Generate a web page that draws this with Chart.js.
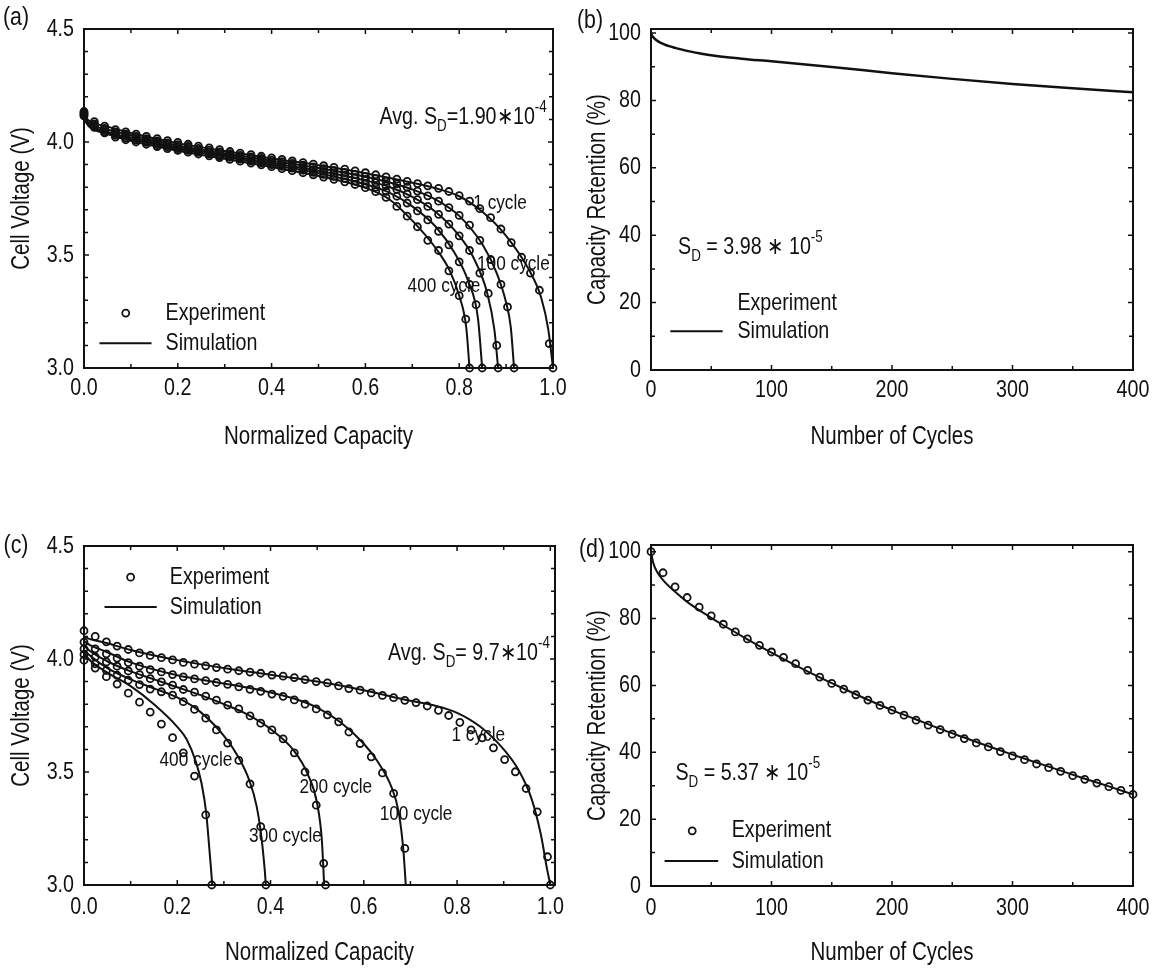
<!DOCTYPE html>
<html>
<head>
<meta charset="utf-8">
<script src="https://cdn.jsdelivr.net/npm/chart.js@4.4.0/dist/chart.umd.min.js"></script>
<style>
  body { margin: 0; background: #fff; width: 1153px; height: 970px; position: relative; overflow: hidden; }
  canvas { position: absolute; }
</style>
</head>
<body>
<canvas id="panelA" width="575" height="470" style="left:0;top:0"></canvas>
<canvas id="panelB" width="578" height="470" style="left:575px;top:0"></canvas>
<canvas id="panelC" width="575" height="490" style="left:0;top:480px"></canvas>
<canvas id="panelD" width="578" height="490" style="left:575px;top:480px"></canvas>
<script>
// ---- (a) discharge curves, low fade cell: experiment ----
const capA1    = [0,0.022,0.044,0.067,0.089,0.111,0.133,0.156,0.178,0.2,0.222,0.244,0.267,0.289,0.311,0.333,0.356,0.378,0.4,0.422,0.444,0.467,0.489,0.511,0.533,0.556,0.578,0.6,0.622,0.644,0.667,0.689,0.711,0.733,0.756,0.778,0.8,0.822,0.844,0.867,0.889,0.911,0.933,0.952,0.971,0.992,1.0];
const voltA1   = [4.135,4.09,4.07,4.055,4.045,4.035,4.025,4.015,4.006,3.998,3.99,3.982,3.974,3.966,3.958,3.951,3.944,3.937,3.93,3.923,3.916,3.909,3.902,3.895,3.888,3.88,3.872,3.864,3.855,3.846,3.836,3.826,3.816,3.806,3.795,3.781,3.763,3.738,3.705,3.665,3.615,3.555,3.49,3.42,3.344,3.108,3.0];
const capA100  = [0,0.022,0.044,0.067,0.089,0.111,0.133,0.156,0.178,0.2,0.222,0.244,0.267,0.289,0.311,0.333,0.356,0.378,0.4,0.422,0.444,0.467,0.489,0.511,0.533,0.556,0.578,0.6,0.622,0.644,0.667,0.689,0.711,0.733,0.756,0.778,0.8,0.822,0.844,0.867,0.889,0.903,0.917];
const voltA100 = [4.13,4.08,4.06,4.045,4.035,4.025,4.015,4.005,3.996,3.988,3.98,3.972,3.964,3.956,3.948,3.941,3.934,3.927,3.92,3.913,3.905,3.898,3.89,3.882,3.874,3.866,3.857,3.848,3.838,3.827,3.815,3.8,3.783,3.762,3.738,3.71,3.675,3.632,3.565,3.48,3.37,3.27,3.0];
const capA200  = [0,0.022,0.044,0.067,0.089,0.111,0.133,0.156,0.178,0.2,0.222,0.244,0.267,0.289,0.311,0.333,0.356,0.378,0.4,0.422,0.444,0.467,0.489,0.511,0.533,0.556,0.578,0.6,0.622,0.644,0.667,0.689,0.711,0.733,0.756,0.778,0.8,0.822,0.844,0.862,0.88,0.883];
const voltA200 = [4.125,4.075,4.052,4.037,4.026,4.016,4.006,3.996,3.987,3.979,3.971,3.963,3.955,3.947,3.94,3.932,3.925,3.917,3.91,3.902,3.894,3.886,3.878,3.87,3.861,3.852,3.842,3.832,3.82,3.806,3.79,3.77,3.745,3.715,3.68,3.637,3.585,3.52,3.42,3.33,3.1,3.0];
const capA300  = [0,0.022,0.044,0.067,0.089,0.111,0.133,0.156,0.178,0.2,0.222,0.244,0.267,0.289,0.311,0.333,0.356,0.378,0.4,0.422,0.444,0.467,0.489,0.511,0.533,0.556,0.578,0.6,0.622,0.644,0.667,0.689,0.711,0.733,0.756,0.778,0.8,0.822,0.836,0.849];
const voltA300 = [4.12,4.07,4.045,4.03,4.018,4.008,3.998,3.988,3.979,3.971,3.963,3.955,3.947,3.939,3.932,3.924,3.916,3.908,3.9,3.892,3.884,3.875,3.866,3.857,3.848,3.838,3.827,3.815,3.8,3.782,3.76,3.73,3.695,3.655,3.605,3.545,3.47,3.37,3.28,3.0];
const capA400  = [0,0.022,0.044,0.067,0.089,0.111,0.133,0.156,0.178,0.2,0.222,0.244,0.267,0.289,0.311,0.333,0.356,0.378,0.4,0.422,0.444,0.467,0.489,0.511,0.533,0.556,0.578,0.6,0.622,0.644,0.667,0.689,0.711,0.733,0.756,0.778,0.8,0.814,0.822];
const voltA400 = [4.115,4.065,4.04,4.022,4.01,4.0,3.99,3.98,3.971,3.963,3.955,3.947,3.939,3.931,3.923,3.915,3.907,3.899,3.891,3.882,3.873,3.864,3.855,3.845,3.835,3.824,3.812,3.798,3.78,3.755,3.715,3.672,3.625,3.565,3.52,3.43,3.32,3.216,3.0];

// ---- (a) simulation ----
const simCapA1    = [0,0.01,0.05,0.1,0.2,0.3,0.4,0.5,0.6,0.7,0.75,0.8,0.85,0.9,0.95,0.975,0.99,1.0];
const simVoltA1   = [4.12,4.095,4.068,4.04,3.995,3.96,3.927,3.897,3.862,3.82,3.795,3.76,3.69,3.585,3.43,3.31,3.17,3.0];
const simCapA100  = [0,0.01,0.05,0.1,0.2,0.3,0.4,0.5,0.6,0.65,0.7,0.75,0.8,0.85,0.88,0.9,0.91,0.917];
const simVoltA100 = [4.115,4.085,4.055,4.03,3.985,3.95,3.917,3.885,3.846,3.822,3.79,3.745,3.673,3.545,3.42,3.29,3.18,3.0];
const simCapA200  = [0,0.01,0.05,0.1,0.2,0.3,0.4,0.5,0.6,0.65,0.7,0.75,0.8,0.83,0.86,0.875,0.883];
const simVoltA200 = [4.11,4.08,4.045,4.02,3.977,3.942,3.907,3.873,3.83,3.802,3.757,3.69,3.585,3.49,3.33,3.17,3.0];
const simCapA300  = [0,0.01,0.05,0.1,0.2,0.3,0.4,0.5,0.6,0.65,0.7,0.75,0.79,0.82,0.84,0.849];
const simVoltA300 = [4.105,4.075,4.04,4.012,3.969,3.935,3.898,3.862,3.813,3.777,3.715,3.625,3.51,3.38,3.22,3.0];
const simCapA400  = [0,0.01,0.05,0.1,0.2,0.3,0.4,0.5,0.6,0.65,0.7,0.75,0.78,0.8,0.815,0.822];
const simVoltA400 = [4.1,4.07,4.035,4.005,3.961,3.926,3.889,3.85,3.797,3.748,3.652,3.53,3.43,3.32,3.18,3.0];

// ---- (b) capacity retention, low fade cell ----
const cyclesB    = [0,1,2,4,7,10,15,20,30,40,50,75,100,150,200,250,300,350,400];
const retentionB = [100,99.2,98.7,98.0,97.3,96.8,96.1,95.6,94.7,94.0,93.4,92.4,91.6,89.9,88.1,86.4,84.9,83.6,82.4];

// ---- (c) discharge curves, high fade cell: experiment ----
const capC1     = [0,0.024,0.048,0.071,0.095,0.119,0.142,0.166,0.19,0.213,0.237,0.261,0.284,0.308,0.332,0.356,0.379,0.403,0.427,0.451,0.474,0.498,0.522,0.546,0.568,0.592,0.616,0.64,0.664,0.688,0.712,0.736,0.76,0.782,0.806,0.83,0.854,0.878,0.902,0.925,0.948,0.972,0.994,1.0];
const voltC1    = [4.125,4.1,4.076,4.057,4.042,4.027,4.016,4.006,3.996,3.985,3.977,3.97,3.962,3.955,3.948,3.942,3.937,3.929,3.924,3.918,3.909,3.9,3.894,3.881,3.869,3.862,3.85,3.839,3.829,3.817,3.807,3.792,3.773,3.75,3.72,3.686,3.651,3.607,3.555,3.501,3.427,3.324,3.125,3.0];
const capC100   = [0,0.024,0.048,0.071,0.095,0.119,0.142,0.166,0.19,0.213,0.237,0.261,0.284,0.308,0.332,0.356,0.379,0.403,0.427,0.451,0.474,0.498,0.522,0.546,0.568,0.592,0.616,0.64,0.664,0.688];
const voltC100  = [4.075,4.045,4.023,4.004,3.984,3.968,3.953,3.943,3.931,3.921,3.912,3.904,3.896,3.888,3.877,3.866,3.857,3.845,3.835,3.819,3.8,3.779,3.753,3.722,3.677,3.626,3.567,3.496,3.405,3.162];
const capC200   = [0,0.024,0.048,0.071,0.095,0.119,0.142,0.166,0.19,0.213,0.237,0.261,0.284,0.308,0.332,0.356,0.379,0.403,0.427,0.451,0.474,0.498,0.514,0.518];
const voltC200  = [4.045,4.009,3.987,3.968,3.947,3.931,3.913,3.899,3.884,3.865,3.853,3.836,3.818,3.796,3.779,3.748,3.716,3.686,3.647,3.585,3.5,3.353,3.096,3.0];
const capC300   = [0,0.024,0.048,0.071,0.095,0.119,0.142,0.166,0.19,0.213,0.237,0.261,0.284,0.308,0.332,0.356,0.379,0.39];
const voltC300  = [4.02,3.979,3.95,3.928,3.906,3.887,3.867,3.855,3.84,3.811,3.777,3.738,3.686,3.628,3.551,3.447,3.258,3.0];
const capC400   = [0,0.024,0.048,0.071,0.095,0.119,0.142,0.166,0.19,0.213,0.237,0.261,0.274];
const voltC400  = [3.995,3.96,3.922,3.889,3.849,3.809,3.765,3.712,3.652,3.585,3.482,3.31,3.0];

// ---- (c) simulation ----
const simCapC1    = [0,0.01,0.05,0.1,0.2,0.3,0.4,0.5,0.6,0.7,0.75,0.8,0.85,0.9,0.93,0.96,0.98,0.993,1.0];
const simVoltC1   = [4.1,4.09,4.07,4.04,3.995,3.96,3.93,3.9,3.862,3.815,3.795,3.762,3.7,3.6,3.515,3.38,3.22,3.07,3.0];
const simCapC100  = [0,0.01,0.05,0.1,0.2,0.3,0.4,0.45,0.5,0.55,0.6,0.63,0.66,0.675,0.685,0.69];
const simVoltC100 = [4.08,4.065,4.03,3.985,3.928,3.892,3.852,3.825,3.785,3.72,3.625,3.545,3.43,3.32,3.15,3.0];
const simCapC200  = [0,0.01,0.05,0.1,0.15,0.2,0.25,0.3,0.35,0.4,0.45,0.48,0.5,0.51,0.515];
const simVoltC200 = [4.06,4.04,3.99,3.945,3.91,3.875,3.84,3.8,3.755,3.69,3.595,3.49,3.36,3.2,3.0];
const simCapC300  = [0,0.01,0.05,0.1,0.15,0.2,0.25,0.3,0.33,0.355,0.37,0.38,0.387,0.39];
const simVoltC300 = [4.04,4.02,3.96,3.91,3.87,3.83,3.765,3.66,3.57,3.46,3.35,3.22,3.08,3.0];
const simCapC400  = [0,0.01,0.05,0.1,0.15,0.2,0.22,0.24,0.252,0.262,0.268,0.272,0.275];
const simVoltC400 = [4.03,4.0,3.94,3.88,3.8,3.7,3.645,3.545,3.45,3.32,3.18,3.08,3.0];

// ---- (d) capacity retention, high fade cell ----
const cyclesD       = [0,10,20,30,40,50,60,70,80,90,100,110,120,130,140,150,160,170,180,190,200,210,220,230,240,250,260,270,280,290,300,310,320,330,340,350,360,370,380,390,400];
const retentionD    = [100,93.7,89.5,86.3,83.4,80.8,78.3,76.0,73.9,72.0,70.0,68.4,66.5,64.5,62.5,60.6,58.9,57.2,55.6,54.0,52.6,51.1,49.6,48.1,46.8,45.4,44.1,42.8,41.6,40.2,38.9,37.8,36.5,35.4,34.3,33.0,31.9,30.8,29.7,28.6,27.4];
const simCyclesD    = [0,2,5,10,20,30,40,50,60,80,100,120,140,160,180,200,220,240,260,280,300,320,340,360,380,400];
const simRetentionD = [100,96.5,94,91.5,88,85,82.5,80.2,78,73.8,69.8,66,62.4,59,55.7,52.6,49.8,47,44.4,41.8,39.3,36.9,34.5,32.1,29.8,27.4];

// ---- axis ticks ----
const capTicks       = [0, 0.2, 0.4, 0.6, 0.8, 1.0];
const capMinor       = [0.1, 0.3, 0.5, 0.7, 0.9];
const voltTicks      = [3.0, 3.5, 4.0, 4.5];
const voltMinor      = [3.1, 3.2, 3.3, 3.4, 3.6, 3.7, 3.8, 3.9, 4.1, 4.2, 4.3, 4.4];
const cycleTicks     = [0, 100, 200, 300, 400];
const cycleMinor     = [50, 150, 250, 350];
const retentionTicks = [0, 20, 40, 60, 80, 100];
const retentionMinor = [10, 30, 50, 70, 90];

const INK = '#111';
const FAMILY = "'Liberation Sans', Arial, sans-serif";
const SQUEEZE = 0.82;   // narrow look for all lettering

const pts = (xs, ys) => xs.map((x, i) => ({ x, y: ys[i] }));

function expSet(xs, ys) {
  return {
    data: pts(xs, ys), showLine: false, clip: false,
    pointStyle: 'circle', pointRadius: 3.5, pointBorderWidth: 1.8,
    pointBorderColor: INK, pointBackgroundColor: 'rgba(0,0,0,0)'
  };
}
function simSet(xs, ys, w) {
  return {
    data: pts(xs, ys), showLine: true, clip: false, pointRadius: 0,
    borderColor: INK, borderWidth: w || 2, cubicInterpolationMode: 'monotone', fill: false
  };
}

// condensed text, optionally rotated
function condText(ctx, text, x, y, size, align, rot) {
  ctx.save();
  ctx.translate(x, y);
  if (rot) ctx.rotate(rot);
  ctx.scale(SQUEEZE, 1);
  ctx.font = size + 'px ' + FAMILY;
  ctx.textAlign = align;
  ctx.textBaseline = 'middle';
  ctx.fillText(text, 0, 0);
  ctx.restore();
}

// text with sub/superscripts: parts = [[text, 0 normal | 1 sub | 2 sup], ...]
function drawRich(ctx, x, y, parts, size) {
  ctx.save();
  ctx.translate(x, y);
  ctx.scale(SQUEEZE, 1);
  ctx.textAlign = 'left';
  ctx.textBaseline = 'middle';
  let cx = 0;
  parts.forEach(([t, m]) => {
    const fs = m ? size * 0.68 : size;
    ctx.font = fs + 'px ' + FAMILY;
    const dy = m === 1 ? size * 0.38 : m === 2 ? -size * 0.42 : 0;
    ctx.fillText(t, cx, dy);
    cx += ctx.measureText(t).width;
  });
  ctx.restore();
}

// box with inward ticks, tick labels and axis titles
function framePlugin(t) {
  return {
    id: 'frame',
    afterDatasetsDraw(chart) {
      const { ctx, chartArea: a, scales: { x, y } } = chart;
      ctx.save();
      ctx.strokeStyle = INK;
      ctx.fillStyle = INK;
      ctx.lineWidth = 1.5;
      ctx.beginPath();
      const marksX = (vals, len) => vals.forEach(v => {
        const px = x.getPixelForValue(v);
        ctx.moveTo(px, a.bottom); ctx.lineTo(px, a.bottom - len);
        ctx.moveTo(px, a.top); ctx.lineTo(px, a.top + len);
      });
      const marksY = (vals, len) => vals.forEach(v => {
        const py = y.getPixelForValue(v);
        ctx.moveTo(a.left, py); ctx.lineTo(a.left + len, py);
        ctx.moveTo(a.right, py); ctx.lineTo(a.right - len, py);
      });
      marksX(t.xMajor, 5); marksX(t.xMinor, 4);
      marksY(t.yMajor, 5); marksY(t.yMinor, 4);
      ctx.stroke();
      ctx.lineWidth = 2;
      ctx.strokeRect(a.left, a.top, a.right - a.left, a.bottom - a.top);

      x.ticks.forEach(tk => condText(ctx, t.fmt(tk.value), x.getPixelForValue(tk.value), a.bottom + t.xLabelGap, 24, 'center'));
      y.ticks.forEach(tk => condText(ctx, t.fmt(tk.value), a.left - 10, y.getPixelForValue(tk.value), 24, 'right'));
      condText(ctx, t.xTitle, (a.left + a.right) / 2, a.bottom + t.xTitleGap, 25, 'center');
      condText(ctx, t.yTitle, t.yTitleX, (a.top + a.bottom) / 2, 25, 'center', -Math.PI / 2);
      ctx.restore();
    }
  };
}

// panel letter, legend, labels
function notesPlugin(n) {
  return {
    id: 'notes',
    afterDraw(chart) {
      const { ctx, scales: { x, y } } = chart;
      const X = v => x.getPixelForValue(v), Y = v => y.getPixelForValue(v);
      ctx.save();
      ctx.fillStyle = INK; ctx.strokeStyle = INK;
      condText(ctx, n.letter[0], n.letter[1], n.letter[2], 26, 'center');
      const lg = n.legend;
      if (lg.marker) {
        ctx.lineWidth = 1.8;
        ctx.beginPath();
        ctx.arc(X(lg.marker[0]), Y(lg.expY), 3.5, 0, Math.PI * 2);
        ctx.stroke();
      }
      condText(ctx, 'Experiment', X(lg.textX), Y(lg.expY), 24, 'left');
      ctx.lineWidth = 2;
      ctx.beginPath();
      ctx.moveTo(X(lg.line[0]), Y(lg.simY));
      ctx.lineTo(X(lg.line[1]), Y(lg.simY));
      ctx.stroke();
      condText(ctx, 'Simulation', X(lg.textX), Y(lg.simY), 24, 'left');
      drawRich(ctx, X(n.sd.x), Y(n.sd.y), n.sd.parts, 24);
      (n.labels || []).forEach(l => condText(ctx, l.text, X(l.x), Y(l.y), 21, 'left'));
      ctx.restore();
    }
  };
}

function axis(o) {
  return {
    type: 'linear', min: o.min, max: o.max,
    afterBuildTicks: s => { s.ticks = o.ticks.map(v => ({ value: v })); },
    afterFit: s => { if (o.width) s.width = o.width; if (o.height) s.height = o.height; },
    grid: { display: false, drawTicks: false },
    border: { display: false },
    ticks: { display: false },
    title: { display: false }
  };
}

function panel(id, p) {
  new Chart(document.getElementById(id), {
    type: 'scatter',
    data: { datasets: p.datasets },
    options: {
      responsive: false, animation: false, devicePixelRatio: 1,
      layout: { padding: p.pad },
      plugins: { legend: { display: false }, tooltip: { enabled: false } },
      scales: { x: axis(p.x), y: axis(p.y) }
    },
    plugins: [framePlugin(p.frame), notesPlugin(p.notes)]
  });
}

const voltFmt = v => v.toFixed(1);
const retFmt = v => String(v);

panel('panelA', {
  pad: { left: 0, top: 29, right: 22, bottom: 0 },
  datasets: [
    simSet(simCapA1, simVoltA1), simSet(simCapA100, simVoltA100), simSet(simCapA200, simVoltA200),
    simSet(simCapA300, simVoltA300), simSet(simCapA400, simVoltA400),
    expSet(capA1, voltA1), expSet(capA100, voltA100), expSet(capA200, voltA200),
    expSet(capA300, voltA300), expSet(capA400, voltA400)
  ],
  x: { min: 0, max: 1.0, ticks: capTicks, height: 102 },
  y: { min: 3.0, max: 4.5, ticks: voltTicks, width: 84 },
  frame: { xMajor: capTicks, xMinor: capMinor, yMajor: voltTicks, yMinor: voltMinor, fmt: voltFmt,
           xLabelGap: 20, xTitleGap: 69, xTitle: 'Normalized Capacity', yTitle: 'Cell Voltage (V)', yTitleX: 22 },
  notes: {
    letter: ['(a)', 16, 18],
    legend: { marker: [0.089], textX: 0.174, expY: 3.243, line: [0.033, 0.144], simY: 3.11 },
    sd: { x: 0.63, y: 4.11, parts: [['Avg. S', 0], ['D', 1], ['=1.90\u221710', 0], ['-4', 2]] },
    labels: [
      { text: '1 cycle', x: 0.83, y: 3.73 },
      { text: '100 cycle', x: 0.838, y: 3.46 },
      { text: '400 cycle', x: 0.69, y: 3.36 }
    ]
  }
});

panel('panelB', {
  pad: { left: 0, top: 29, right: 20, bottom: 0 },
  datasets: [simSet(cyclesB, retentionB, 2.5)],
  x: { min: 0, max: 400, ticks: cycleTicks, height: 100 },
  y: { min: 0, max: 101.2, ticks: retentionTicks, width: 76 },
  frame: { xMajor: cycleTicks, xMinor: cycleMinor, yMajor: retentionTicks, yMinor: retentionMinor, fmt: retFmt,
           xLabelGap: 20, xTitleGap: 67, xTitle: 'Number of Cycles', yTitle: 'Capacity Retention (%)', yTitleX: 23 },
  notes: {
    letter: ['(b)', 15, 21],
    legend: { marker: null, textX: 71.7, expY: 19.9, line: [16, 59.5], simY: 11.5 },
    sd: { x: 22.5, y: 36.4, parts: [['S', 0], ['D', 1], [' = 3.98 \u2217 10', 0], ['-5', 2]] }
  }
});

panel('panelC', {
  pad: { left: 0, top: 66, right: 20, bottom: 0 },
  datasets: [
    simSet(simCapC1, simVoltC1), simSet(simCapC100, simVoltC100), simSet(simCapC200, simVoltC200),
    simSet(simCapC300, simVoltC300), simSet(simCapC400, simVoltC400),
    expSet(capC1, voltC1), expSet(capC100, voltC100), expSet(capC200, voltC200),
    expSet(capC300, voltC300), expSet(capC400, voltC400)
  ],
  x: { min: 0, max: 1.01, ticks: capTicks, height: 85 },
  y: { min: 3.0, max: 4.5, ticks: voltTicks, width: 84 },
  frame: { xMajor: capTicks, xMinor: capMinor, yMajor: voltTicks, yMinor: voltMinor, fmt: voltFmt,
           xLabelGap: 22, xTitleGap: 68, xTitle: 'Normalized Capacity', yTitle: 'Cell Voltage (V)', yTitleX: 22 },
  notes: {
    letter: ['(c)', 16, 66],
    legend: { marker: [0.1], textX: 0.184, expY: 4.362, line: [0.044, 0.156], simY: 4.23 },
    sd: { x: 0.652, y: 4.024, parts: [['Avg. S', 0], ['D', 1], ['= 9.7\u221710', 0], ['-4', 2]] },
    labels: [
      { text: '1 cycle', x: 0.788, y: 3.663 },
      { text: '400 cycle', x: 0.162, y: 3.552 },
      { text: '200 cycle', x: 0.462, y: 3.432 },
      { text: '100 cycle', x: 0.634, y: 3.314 },
      { text: '300 cycle', x: 0.354, y: 3.214 }
    ]
  }
});

panel('panelD', {
  pad: { left: 0, top: 65, right: 20, bottom: 0 },
  datasets: [simSet(simCyclesD, simRetentionD), expSet(cyclesD, retentionD)],
  x: { min: 0, max: 400, ticks: cycleTicks, height: 84 },
  y: { min: 0, max: 102, ticks: retentionTicks, width: 76 },
  frame: { xMajor: cycleTicks, xMinor: cycleMinor, yMajor: retentionTicks, yMinor: retentionMinor, fmt: retFmt,
           xLabelGap: 22, xTitleGap: 67, xTitle: 'Number of Cycles', yTitle: 'Capacity Retention (%)', yTitleX: 23 },
  notes: {
    letter: ['(d)', 17, 70],
    legend: { marker: [34.2], textX: 67, expY: 16.5, line: [11.3, 55.8], simY: 7.5 },
    sd: { x: 20.3, y: 33.6, parts: [['S', 0], ['D', 1], [' = 5.37 \u2217 10', 0], ['-5', 2]] }
  }
});
</script>
</body>
</html>
